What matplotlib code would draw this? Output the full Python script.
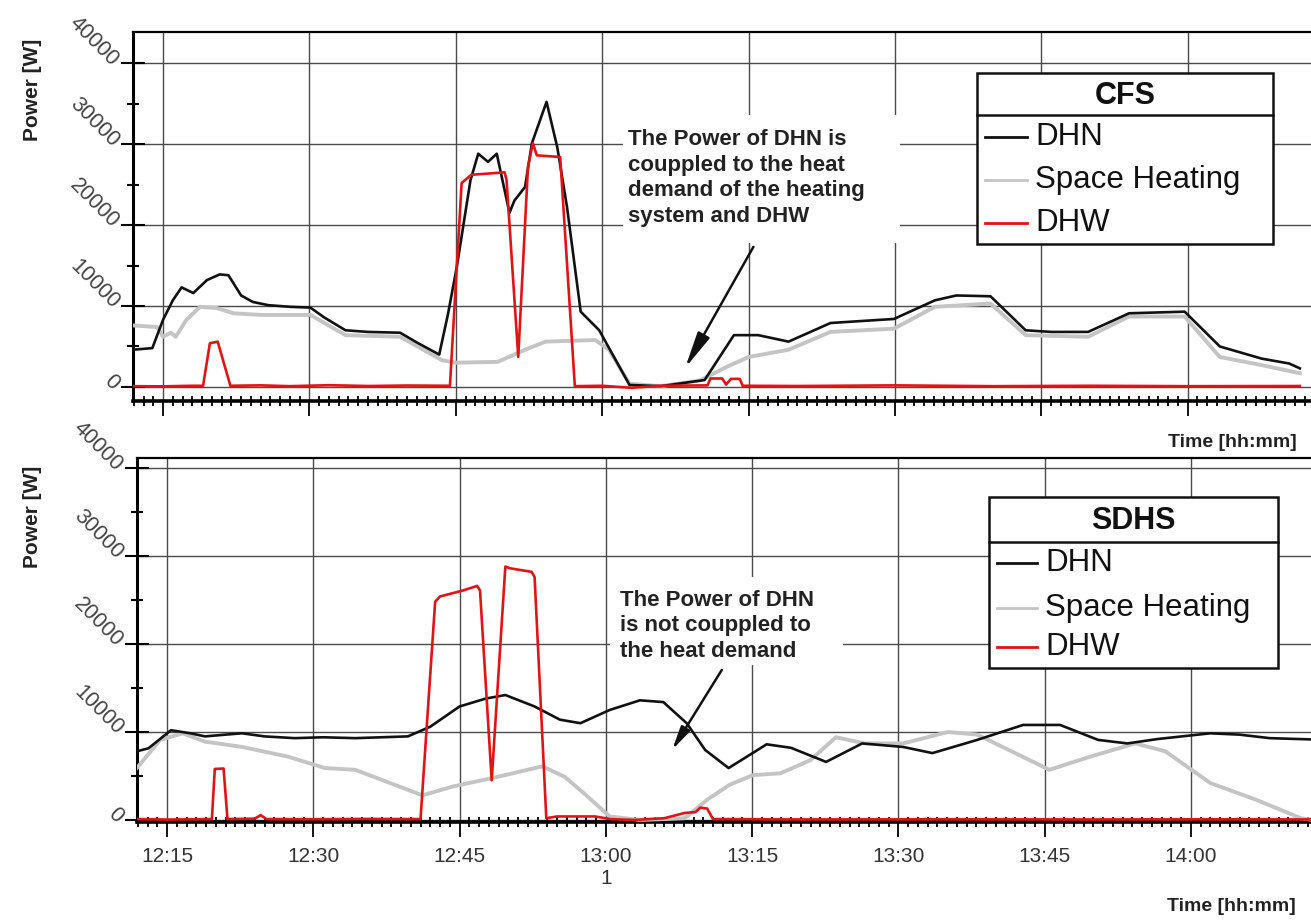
import matplotlib
matplotlib.use("Agg")
import matplotlib.pyplot as plt
from matplotlib.patches import Rectangle
from matplotlib.lines import Line2D
from matplotlib.ticker import MultipleLocator, FixedLocator, FuncFormatter

plt.rcParams['font.family'] = ['Liberation Sans', 'DejaVu Sans']

W, H = 1311, 921

# times are minutes after 12:00, power in W
# --- CFS (top) ---
cfs_dhn_t = [11.9, 13.9, 15.0, 16.0, 16.9, 18.1, 19.5, 20.8, 21.7, 23.0, 24.2, 25.8, 28.0, 30.1,
             31.5, 33.7, 36.0, 39.3, 41.0, 43.3, 44.2, 45.1, 46.5, 47.3, 48.3, 49.2, 50.5, 51.0,
             52.1, 52.8, 54.3, 55.4, 56.4, 57.8, 59.7, 62.8, 66.0, 70.5, 73.5, 76.0, 79.1, 83.4,
             86.0, 89.9, 94.1, 96.3, 99.8, 103.4, 106.0, 109.8, 114.0, 119.7, 123.3, 127.6,
             130.4, 131.5]
cfs_dhn_p = [4600, 4800, 8300, 10700, 12300, 11600, 13200, 13900, 13800, 11300, 10500, 10100, 9900, 9800,
             8600, 7000, 6800, 6700, 5500, 4000, 9000, 14800, 25500, 28800, 27800, 28800, 21500, 23000,
             24700, 30100, 35200, 29600, 22200, 9300, 7000, 250, 100, 860, 6400, 6400, 5600, 7900,
             8100, 8400, 10700, 11300, 11200, 7000, 6800, 6800, 9100, 9300, 5000, 3500,
             2900, 2300]

cfs_sh_t = [11.9, 14.4, 15.0, 15.8, 16.3, 17.4, 18.8, 20.5, 22.2, 25.0, 30.1, 33.7, 39.3, 43.6,
            45.0, 49.3, 52.1, 54.2, 59.3, 60.7, 62.8, 66.0, 70.0, 72.8, 75.0, 79.1, 83.4, 89.9,
            94.1, 99.8, 103.4, 109.8, 114.0, 119.7, 123.3, 127.6, 131.5]
cfs_sh_p = [7600, 7400, 6200, 6700, 6200, 8300, 9900, 9750, 9100, 8900, 8900, 6400, 6200, 3300,
            3000, 3100, 4600, 5600, 5800, 4600, 400, 100, 800, 2500, 3700, 4600, 6800, 7200,
            9900, 10300, 6400, 6200, 8700, 8700, 3700, 2700, 1700]

cfs_dhw_t = [11.9, 15.0, 18.0, 19.1, 19.8, 20.6, 21.9, 25.0, 28.0, 32.0, 36.0, 40.0, 44.4, 45.6,
             46.6, 50.0, 50.2, 51.4, 52.4, 52.9, 53.3, 55.7, 57.2, 60.0, 63.0, 66.0, 70.8, 71.1,
             72.3, 72.7, 73.2, 74.1, 74.4, 80.0, 90.0, 100.0, 110.0, 120.0, 131.5]
cfs_dhw_p = [100, 80, 150, 150, 5400, 5600, 150, 200, 100, 220, 120, 180, 150, 25200,
             26200, 26500, 25600, 3700, 27200, 30100, 28600, 28400, 100, 150, -100, 150, 200, 1050,
             1050, 300, 1000, 1000, 150, 120, 200, 100, 150, 100, 120]

# --- SDHS (bottom) ---
sdhs_dhn_t = [11.9, 13.1, 15.4, 17.4, 18.9, 21.0, 22.7, 25.0, 28.1, 31.0, 34.3, 37.0, 39.7, 42.0,
              45.0, 47.7, 49.7, 52.7, 55.3, 57.4, 60.4, 63.5, 65.9, 68.3, 70.2, 72.6, 76.5, 79.0,
              82.6, 86.3, 90.5, 93.5, 98.1, 102.8, 106.6, 110.5, 113.5, 116.6, 122.0, 125.0,
              128.1, 132.5]
sdhs_dhn_p = [7800, 8150, 10200, 9850, 9500, 9700, 9850, 9500, 9300, 9400, 9300, 9400, 9500, 10600,
              12900, 13800, 14200, 12900, 11400, 11000, 12500, 13600, 13400, 11000, 7950, 5900, 8600, 8200,
              6600, 8700, 8300, 7600, 9100, 10800, 10800, 9100, 8700, 9200, 9850, 9700,
              9300, 9150]

sdhs_sh_t = [11.9, 14.3, 16.6, 18.9, 22.7, 27.4, 31.2, 34.3, 37.4, 41.2, 44.3, 48.9, 53.5, 55.8,
             58.0, 60.4, 63.5, 66.0, 68.1, 70.4, 72.7, 75.1, 77.9, 81.0, 83.6, 86.6, 90.5, 95.1,
             98.1, 102.0, 105.5, 109.7, 114.3, 117.4, 122.0, 126.7, 131.3, 132.5]
sdhs_sh_p = [5900, 9100, 9850, 8900, 8300, 7200, 5900, 5700, 4400, 2800, 3800, 4900, 6100, 4900,
             2800, 400, 0, 100, 200, 2300, 4000, 5100, 5300, 6800, 9400, 8700, 8700, 10000,
             9700, 7600, 5700, 7200, 8700, 7800, 4200, 2300, 200, 0]

sdhs_dhw_t = [11.9, 15.0, 19.6, 19.9, 20.8, 21.2, 24.0, 24.6, 25.2, 30.0, 35.0, 41.0, 42.5, 43.0,
              45.4, 46.8, 47.1, 48.3, 49.7, 50.2, 52.4, 52.7, 53.9, 55.0, 58.9, 60.5, 63.0, 66.0,
              68.1, 69.2, 69.7, 70.4, 71.0, 80.0, 95.0, 110.0, 125.0, 132.5]
sdhs_dhw_p = [100, 50, 100, 5800, 5850, 100, 150, 550, 100, 80, 120, 100, 24800, 25400,
              26100, 26600, 26100, 4500, 28800, 28600, 28200, 27600, 200, 400, 400, 100, 0, 200,
              800, 900, 1400, 1300, 100, 60, 80, 60, 80, 60]

series_labels = ['DHN', 'Space Heating', 'DHW']
series_colors = ['#111111', '#c4c4c4', '#e01414']
series_widths = [1.9, 2.8, 1.9]
series_z = [4, 3, 5]

major_minutes = [15, 30, 45, 60, 75, 90, 105, 120]


def fig_xy(x, y):
    # pixel position (from top-left) -> figure fraction
    return x / W, 1 - y / H


def hhmm(m, pos=None):
    m = int(round(m))
    s = f"{12 + m // 60}:{m % 60:02d}"
    if m == 60:
        s += "\n1"
    return s


def style_axes(ax, ylim, show_xlabels):
    ax.set_xlim(11.92, 135)
    ax.set_ylim(*ylim)
    ax.set_axisbelow(True)
    ax.xaxis.set_major_locator(FixedLocator(major_minutes))
    ax.xaxis.set_minor_locator(MultipleLocator(1))
    ax.yaxis.set_major_locator(MultipleLocator(10000))
    ax.yaxis.set_minor_locator(MultipleLocator(5000))
    ax.grid(True, which='major', color='#4a4a4a', lw=1.0)
    ax.xaxis.set_major_formatter(FuncFormatter(hhmm))
    ax.yaxis.set_major_formatter(FuncFormatter(lambda v, p: f"{int(v)}"))
    ax.tick_params(axis='x', which='major', direction='out', length=11, width=1.3,
                   labelsize=15, labelcolor='#333333', pad=7, labelbottom=show_xlabels)
    ax.tick_params(axis='x', which='minor', direction='inout', length=7, width=1.3)
    ax.tick_params(axis='y', which='major', direction='inout', length=17, width=1.5,
                   labelsize=15.5, labelcolor='#444444', pad=4)
    ax.tick_params(axis='y', which='minor', direction='inout', length=8, width=1.5)
    for lab in ax.get_yticklabels():
        lab.set_rotation(-45)
        lab.set_rotation_mode('anchor')
        lab.set_ha('right')
        lab.set_va('center')
    ax.spines['left'].set_linewidth(2.2)
    ax.spines['bottom'].set_linewidth(2.6)
    ax.spines['top'].set_linewidth(1.6)
    ax.spines['right'].set_linewidth(1.6)


def draw_series(ax, data):
    for (t, p), lab, c, lw, z in zip(data, series_labels, series_colors, series_widths, series_z):
        ax.plot(t, p, color=c, lw=lw, zorder=z, label=lab, solid_joinstyle='round')


def draw_legend(fig, title, left, top, right, bottom, sep, title_y, rows, sx0, sx1, text_x):
    x0, y0 = fig_xy(left, bottom)
    x1, y1 = fig_xy(right, top)
    fig.add_artist(Rectangle((x0, y0), x1 - x0, y1 - y0, transform=fig.transFigure,
                             facecolor='white', edgecolor='#111111', lw=1.8, zorder=10))
    _, ys = fig_xy(0, sep)
    fig.add_artist(Line2D([x0, x1], [ys, ys], transform=fig.transFigure,
                          color='#111111', lw=1.8, zorder=11))
    tx, ty = fig_xy((left + right) / 2, title_y)
    fig.text(tx, ty, title, ha='center', va='center', fontsize=22, fontweight='bold',
             color='#111111', zorder=11)
    for lab, c, y in zip(series_labels, series_colors, rows):
        a, b = fig_xy(sx0, y)
        a2, _ = fig_xy(sx1, y)
        fig.add_artist(Line2D([a, a2], [b, b], transform=fig.transFigure,
                              color=c, lw=2.0, zorder=11))
        lx, ly = fig_xy(text_x, y)
        fig.text(lx, ly, lab, ha='left', va='center', fontsize=22.5, color='#111111', zorder=11)


fig = plt.figure(figsize=(W / 100, H / 100), dpi=100)

# top panel (CFS)
ax1 = fig.add_axes([133 / W, 1 - 401 / H, 1201 / W, 369 / H])
style_axes(ax1, (-1730, 43830), False)
draw_series(ax1, [(cfs_dhn_t, cfs_dhn_p), (cfs_sh_t, cfs_sh_p), (cfs_dhw_t, cfs_dhw_p)])
ax1.add_patch(Rectangle((62.1, 17780), 28.4, 15800, facecolor='white', edgecolor='none', zorder=1))
ax1.text(62.6, 31800, "The Power of DHN is\ncouppled to the heat\ndemand of the heating\nsystem and DHW",
         ha='left', va='top', fontsize=16, fontweight='bold', color='#222222',
         linespacing=1.28, zorder=6)
ax1.annotate("", xy=(68.5, 2350), xytext=(75.5, 17300),
             arrowprops=dict(arrowstyle='-|>,head_length=1.1,head_width=0.2', color='#111111',
                             lw=1.8, mutation_scale=20, shrinkA=0, shrinkB=0), zorder=6)

# bottom panel (SDHS)
ax2 = fig.add_axes([137 / W, 1 - 822 / H, 1200 / W, 364 / H])
style_axes(ax2, (-230, 41140), True)
draw_series(ax2, [(sdhs_dhn_t, sdhs_dhn_p), (sdhs_sh_t, sdhs_sh_p), (sdhs_dhw_t, sdhs_dhw_p)])
ax2.add_patch(Rectangle((60.4, 17600), 23.9, 10000, facecolor='white', edgecolor='none', zorder=1))
ax2.text(61.5, 26150, "The Power of DHN\nis not couppled to\nthe heat demand",
         ha='left', va='top', fontsize=16, fontweight='bold', color='#222222',
         linespacing=1.28, zorder=6)
ax2.annotate("", xy=(66.8, 7950), xytext=(71.9, 17050),
             arrowprops=dict(arrowstyle='-|>,head_length=0.7,head_width=0.15', color='#111111',
                             lw=1.8, mutation_scale=20, shrinkA=0, shrinkB=0), zorder=6)

draw_legend(fig, 'CFS', 977, 73, 1273, 244, 115, 96, [137, 180, 223], 985, 1027, 1035)
draw_legend(fig, 'SDHS', 989, 497, 1278, 668, 542, 521, [563, 608, 647], 997, 1037, 1045)

for y in (90, 517):
    x, yy = fig_xy(32, y)
    fig.text(x, yy, 'Power [W]', rotation=90, ha='center', va='center',
             fontsize=15, fontweight='bold', color='#222222')
for x, y in ((1168, 442), (1167, 906)):
    xx, yy = fig_xy(x, y)
    fig.text(xx, yy, 'Time [hh:mm]', ha='left', va='center',
             fontsize=14, fontweight='bold', color='#222222')

fig.savefig('out.png', dpi=100)
